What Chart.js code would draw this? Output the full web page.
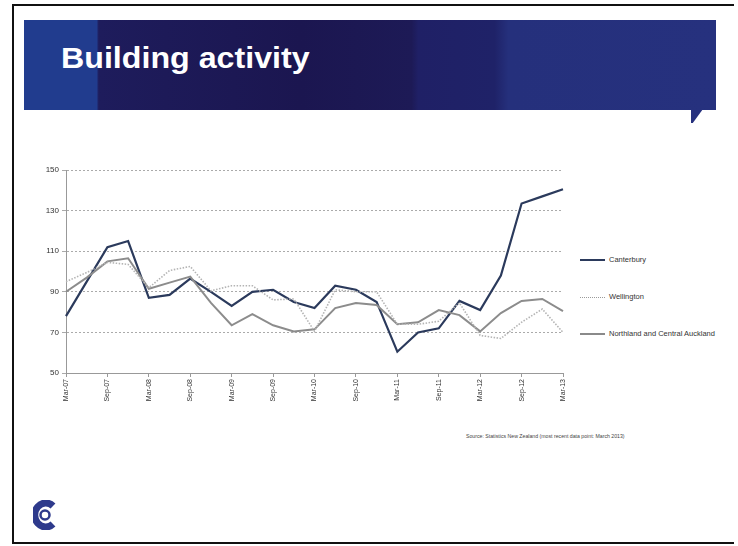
<!DOCTYPE html>
<html>
<head>
<meta charset="utf-8">
<script src="https://cdn.jsdelivr.net/npm/chart.js@4.4.1/dist/chart.umd.min.js"></script>
<style>
  body { margin: 0; width: 738px; height: 546px; background: #fff; position: relative; overflow: hidden; font-family: "Liberation Sans", Arial, sans-serif; }
  #frame { position: absolute; left: 12px; top: 4px; width: 722px; height: 540px; border: 2px solid #111; border-right: none; box-sizing: border-box; }
  #banner { position: absolute; left: 24px; top: 20px; width: 692px; height: 90px;
    background: linear-gradient(90deg, #213c8e 0%, #213c8e 10.5%, #1e1c5c 10.8%, #1b1650 40%, #1d1a56 56%, #1f2066 57%, #1f2268 68%, #25307c 70%, #26317e 100%); }
  #tail { position: absolute; left: 691px; top: 109px; width: 12px; height: 14px; background: #26317e;
    clip-path: polygon(0 0, 100% 0, 15% 100%, 0 100%); }
  #title { position: absolute; left: 61px; top: 42px; color: #fff; font-weight: bold; font-size: 29px; transform: scaleX(1.11); transform-origin: left top; }
  #wrap { position: absolute; left: 30px; top: 160px; width: 545px; height: 250px; }
  .leg { position: absolute; left: 580px; font-size: 7.5px; color: #333; height: 10px; line-height: 10px; }
  .leg span.ln { display: inline-block; width: 25px; vertical-align: middle; margin-right: 4px; }
  #source { position: absolute; left: 466px; top: 433px; font-size: 5.2px; color: #444; }
  #logo { position: absolute; left: 33px; top: 500px; }
</style>
</head>
<body>
<div id="frame"></div>
<div id="banner"></div>
<div id="tail"></div>
<div id="title">Building activity</div>
<div id="wrap"><canvas id="chart" width="545" height="250"></canvas></div>
<div class="leg" style="top:255px"><span class="ln" style="border-top:2px solid #2b3a5c"></span>Canterbury</div>
<div class="leg" style="top:292px"><span class="ln" style="border-top:1px dotted #9a9a9a"></span>Wellington</div>
<div class="leg" style="top:329px"><span class="ln" style="border-top:2px solid #8a8a8a"></span>Northland and Central Auckland</div>
<div id="source">Source: Statistics New Zealand (most recent data point: March 2013)</div>
<svg id="logo" width="24" height="30" viewBox="0 0 24 30">
  <path d="M20 6 A11 12 0 1 0 20 24" fill="none" stroke="#2e3a8c" stroke-width="7"/>
  <circle cx="12" cy="15" r="4.5" fill="none" stroke="#2e3a8c" stroke-width="2.5"/>
</svg>
<script>
var quarters = ['Mar-07','Jun-07','Sep-07','Dec-07','Mar-08','Jun-08','Sep-08','Dec-08',
  'Mar-09','Jun-09','Sep-09','Dec-09','Mar-10','Jun-10','Sep-10','Dec-10',
  'Mar-11','Jun-11','Sep-11','Dec-11','Mar-12','Jun-12','Sep-12','Dec-12','Mar-13'];

var canterbury = [78, 95, 112, 115, 87, 88.5, 96.5, 90, 83, 90, 91, 85,
  82, 93, 91, 85, 60.5, 70, 72, 85.5, 81, 98, 133.5, 137, 140.5];
var wellington = [95, 99.5, 104.5, 103.5, 92, 100.5, 102.5, 90.5, 93, 93, 86, 86.5,
  70.5, 91, 90, 90, 74, 74, 75.5, 84.5, 68.5, 67, 75, 81.5, 70];
var northland = [90, 97, 105, 106.5, 91.5, 94.5, 97.5, 84.5, 73.5, 79, 73.5, 70.5,
  71.5, 82, 84.5, 83.5, 74, 75, 81, 78.5, 70.5, 79.5, 85.5, 86.5, 80.5];

var yTicks = [50, 70, 90, 110, 130, 150];

var ctx = document.getElementById('chart').getContext('2d');

var chart = new Chart(ctx, {
    type: 'line',
    data: {
        labels: quarters,
        datasets: [{
            label: 'Wellington',
            data: wellington,
            borderColor: '#b4b4b4',
            borderWidth: 1.6,
            borderDash: [1.5, 1.5],
            pointRadius: 0,
            tension: 0
        }, {
            label: 'Northland and Central Auckland',
            data: northland,
            borderColor: '#8c8c8c',
            borderWidth: 2,
            pointRadius: 0,
            tension: 0
        }, {
            label: 'Canterbury',
            data: canterbury,
            borderColor: '#2b3a5c',
            borderWidth: 2.2,
            pointRadius: 0,
            tension: 0
        }]
    },
    options: {
        responsive: false,
        animation: false,
        layout: { padding: { top: 10, right: 12, left: 0, bottom: 0 } },
        plugins: { legend: { display: false }, tooltip: { enabled: false } },
        scales: {
            x: {
                offset: false,
                afterFit: function(s) { s.height = 37; },
                grid: { drawOnChartArea: false, drawTicks: true, tickLength: 4, color: '#999' },
                border: { color: '#999', width: 1 },
                ticks: {
                    autoSkip: false,
                    maxRotation: 90,
                    minRotation: 90,
                    padding: 2,
                    color: '#333',
                    font: { family: 'Liberation Sans', size: 7 },
                    callback: function(v, i) { return i % 2 === 0 ? quarters[i] : null; }
                }
            },
            y: {
                min: 50,
                max: 150,
                afterFit: function(s) { s.width = 36; },
                afterBuildTicks: function(s) { s.ticks = yTicks.map(function(v) { return { value: v }; }); },
                grid: {
                    color: function(c) { return c.tick.value === 50 ? 'rgba(0,0,0,0)' : '#aaa'; },
                    tickLength: 4,
                    tickColor: '#aaa'
                },
                border: { color: '#999', width: 1, dash: [2, 2] },
                ticks: {
                    color: '#333',
                    padding: 3,
                    font: { family: 'Liberation Sans', size: 8 }
                }
            }
        }
    }
});
</script>
</body>
</html>
